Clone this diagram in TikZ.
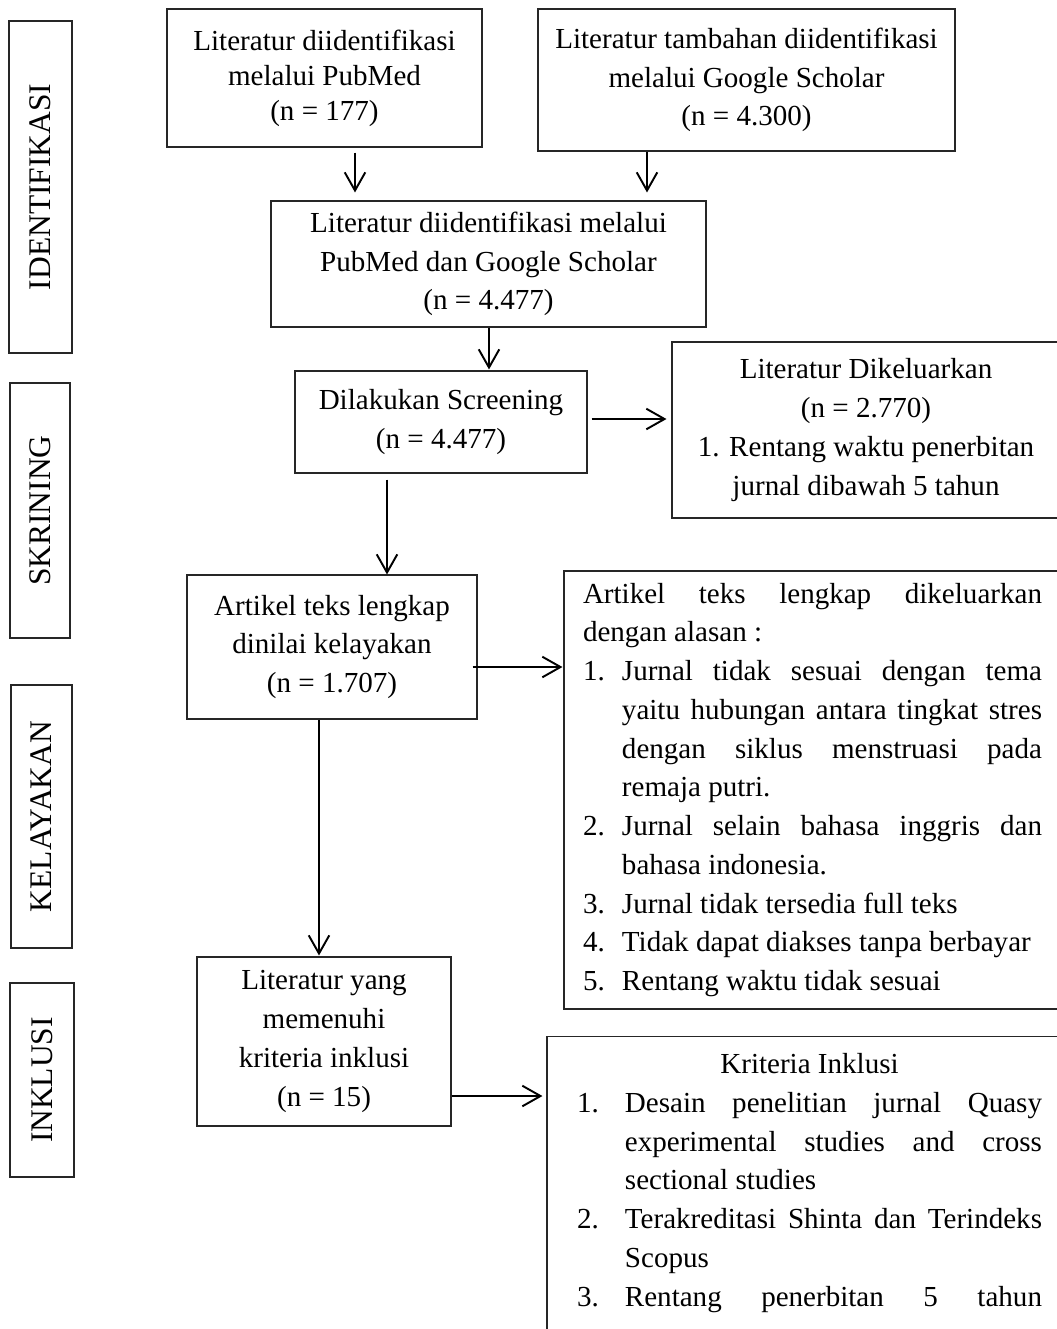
\documentclass[tikz,border=0pt]{standalone}
\usepackage{fontspec}
\setmainfont{Liberation Serif}
\usepackage{tikz}
\usetikzlibrary{arrows.meta,calc}
\newdimen\unitpx
\unitpx=0.413pt
\newcommand{\butir}[2]{\hangindent=#1\hangafter=1\noindent\makebox[#1][l]{#2}}
\tikzset{
  kotak/.style={draw=black!85, line width=0.45pt, inner sep=0pt, align=center, font=\fontsize{12pt}{16pt}\selectfont},
  tahap/.style={draw=black!85, line width=0.45pt, inner sep=0pt, rotate=90, font=\fontsize{13pt}{15pt}\selectfont},
  panah/.style={line width=0.8pt, -{Straight Barb[length=7.5pt,width=8.5pt,line width=0.8pt]}},
}
\begin{document}
\begin{tikzpicture}[x=0.413pt, y=-0.413pt]
\useasboundingbox (0,0) rectangle (1057,1329);
\node[tahap, minimum width=332\unitpx, minimum height=63\unitpx] (identifikasi) at (40.5,187) {IDENTIFIKASI};
\node[tahap, minimum width=255\unitpx, minimum height=60\unitpx] (skrining) at (40,510.5) {SKRINING};
\node[tahap, minimum width=263\unitpx, minimum height=61\unitpx] (kelayakan) at (41.5,816.5) {KELAYAKAN};
\node[tahap, minimum width=194\unitpx, minimum height=64\unitpx] (inklusi) at (42,1080) {INKLUSI};
\node[kotak, minimum width=315\unitpx, minimum height=138\unitpx, font=\fontsize{12pt}{14.5pt}\selectfont] (lit-pubmed) at (324.5,78) {Literatur diidentifikasi\\melalui PubMed\\(n = 177)};
\node[kotak, minimum width=417\unitpx, minimum height=142\unitpx] (lit-scholar) at (746.5,80) {Literatur tambahan diidentifikasi\\melalui Google Scholar\\(n = 4.300)};
\node[kotak, minimum width=435\unitpx, minimum height=126\unitpx] (lit-gabung) at (488.5,264) {Literatur diidentifikasi melalui\\PubMed dan Google Scholar\\(n = 4.477)};
\node[kotak, minimum width=292\unitpx, minimum height=102\unitpx] (screening) at (441,422) {Dilakukan Screening\\(n = 4.477)};
\node[kotak, minimum width=388\unitpx, minimum height=176\unitpx] (keluar-waktu) at (866,430) {Literatur Dikeluarkan\\(n = 2.770)\\1. Rentang waktu penerbitan\\jurnal dibawah 5 tahun};
\node[kotak, minimum width=290\unitpx, minimum height=144\unitpx] (teks-lengkap) at (332,647) {Artikel teks lengkap\\dinilai kelayakan\\(n = 1.707)};
\node[kotak, align=justify, text width=459\unitpx, inner xsep=19\unitpx, minimum width=497\unitpx, minimum height=438\unitpx] (keluar-teks) at (812.5,790) {\noindent Artikel teks lengkap dikeluarkan\linebreak dengan alasan :\par
\butir{16.1pt}{1.}Jurnal tidak sesuai dengan tema\linebreak yaitu hubungan antara tingkat stres\linebreak dengan siklus menstruasi pada\linebreak remaja putri.\par
\butir{16.1pt}{2.}Jurnal selain bahasa inggris dan\linebreak bahasa indonesia.\par
\butir{16.1pt}{3.}Jurnal tidak tersedia full teks\par
\butir{16.1pt}{4.}Tidak dapat diakses tanpa berbayar\par
\butir{16.1pt}{5.}Rentang waktu tidak sesuai};
\node[kotak, minimum width=254\unitpx, minimum height=169\unitpx] (memenuhi) at (324,1041.5) {Literatur yang\\memenuhi\\kriteria inklusi\\(n = 15)};
\node[kotak, align=justify, anchor=north, text width=465\unitpx, inner xsep=30\unitpx, inner ysep=7pt] (kriteria) at (809.5,1036) {{\centering Kriteria Inklusi\par}
\butir{19.8pt}{1.}Desain penelitian jurnal Quasy\linebreak experimental studies and cross\linebreak sectional studies\par
\butir{19.8pt}{2.}Terakreditasi Shinta dan Terindeks\linebreak Scopus\par
\butir{19.8pt}{3.}Rentang penerbitan 5 tahun\linebreak};
\draw[panah] ($(lit-pubmed.south)+(30.5,5)$) -- ($(lit-gabung.north)+(-133.5,-8)$);
\draw[panah] ($(lit-scholar.south)+(-99.5,0)$) -- ($(lit-gabung.north)+(158.5,-8)$);
\draw[panah] ($(lit-gabung.south)+(0.5,0)$) -- ($(screening.north)+(48,-1)$);
\draw[panah] ($(screening.east)+(4,-3)$) -- ($(keluar-waktu.west)+(-5,-11)$);
\draw[panah] ($(screening.south)+(-54,6)$) -- ($(teks-lengkap.north)+(55,0)$);
\draw[panah] ($(teks-lengkap.east)+(-5,20)$) -- ($(keluar-teks.west)+(-1,-123)$);
\draw[panah] ($(teks-lengkap.south)+(-13,0)$) -- ($(memenuhi.north)+(-5,-1)$);
\draw[panah] ($(memenuhi.east)+(0,54.5)$) -- ($(kriteria.north west)+(-4,60)$);
\end{tikzpicture}
\end{document}
